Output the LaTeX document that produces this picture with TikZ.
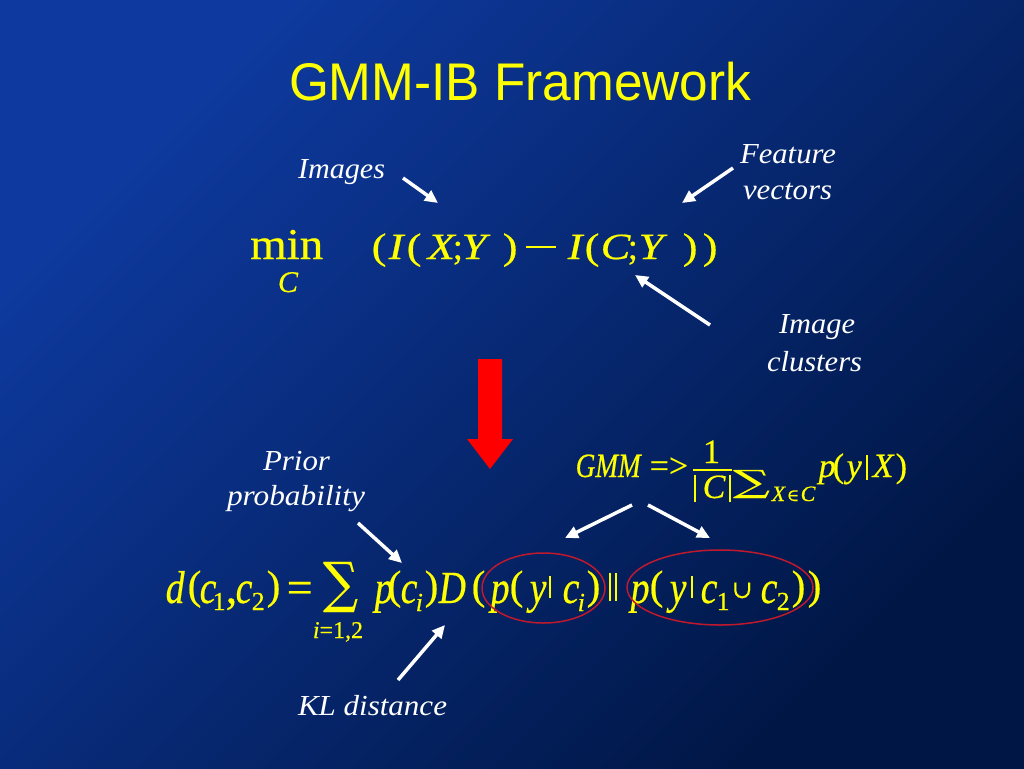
\documentclass[tikz,border=0pt]{standalone}
\usepackage{fontspec}
\setmainfont{Liberation Serif}
\newfontfamily\titlefont{Liberation Sans}
\newfontfamily\eqf[FakeBold=0.5,ItalicFeatures={FakeBold=0.5}]{Liberation Serif}
\newfontfamily\symf[FakeBold=0.3]{DejaVu Serif}
\usetikzlibrary{arrows.meta}
\definecolor{bgA}{RGB}{14,58,160}
\definecolor{bgB}{RGB}{0,22,68}
\definecolor{ellred}{RGB}{190,25,45}
\definecolor{eqyellow}{RGB}{255,255,0}
\newsavebox\fitbox
\newlength\fitl
\newcommand\fitw[2]{\sbox\fitbox{#2}\setlength\fitl{\wd\fitbox}\pgfmathsetmacro\fitr{#1/\fitl}\scalebox{\fitr}[1]{\usebox\fitbox}}
\def\gx{1}
\newcommand\gl[2]{\rlap{\hspace*{\dimexpr#1pt-\glo pt\relax}#2}}
\newcommand\gi[2]{\gl{#1}{\itshape\scalebox{\gx}[1]{#2}}}
\newcommand\gu[2]{\gl{#1}{\scalebox{\gx}[1]{#2}}}
\newcommand\gp[2]{\gl{#1}{\raisebox{4pt}{\fontsize{41}{44}\selectfont #2}}}
\newcommand\gs[3]{\gl{#1}{\raisebox{-#2pt}{\fontsize{26}{30}\selectfont #3}}}
\tikzset{
  lab/.style={text=white, font=\fontsize{29}{32}\selectfont\itshape, inner sep=0pt, anchor=base},
  eq/.style={text=eqyellow, inner sep=0pt, anchor=base west},
  pointer/.style={white, line width=3.5pt, -{Triangle[length=13pt,width=12pt]}},
  ring/.style={draw=ellred, line width=1.5pt},
}
\begin{document}
\begin{tikzpicture}[x=1pt,y=-1pt]
\useasboundingbox (0,0) rectangle (1024,768);
\shade[shading=axis, top color=bgA, bottom color=bgB, shading angle=45] (0,0) rectangle (1024,768);

% title
\node[text=eqyellow, inner sep=0pt, anchor=base, font=\titlefont\fontsize{53}{58}\selectfont] (title) at (520,100) {\fitw{462}{GMM-IB Framework}};

% labels
\node[lab] (images) at (341.5,178) {\fitw{87}{Images}};
\node[lab] (feature) at (788,163) {\fitw{96}{Feature}};
\node[lab] (vectors) at (787.5,199) {\fitw{89}{vectors}};
\node[lab] (image) at (817,333) {\fitw{76}{Image}};
\node[lab] (clusters) at (814.5,371) {\fitw{95}{clusters}};
\node[lab] (prior) at (296.5,470) {\fitw{67}{Prior}};
\node[lab] (probability) at (296,505) {\fitw{138}{probability}};
\node[lab] (kl) at (372.5,715) {\fitw{149}{KL distance}};

% top formula
\node[eq, font=\eqf\fontsize{44}{48}\selectfont] (min) at (250,259) {\fitw{73}{min}};
\node[eq, anchor=base, font=\eqf\fontsize{30}{32}\selectfont\itshape] (minC) at (288,292) {C};
\node[eq, font=\eqf\fontsize{37}{40}\selectfont] (eqtop) at (370,259) {\def\glo{370}\def\gx{1.2}\gu{371}{(}\gi{388}{I}\gu{406}{(}\gi{427}{X}\gl{452}{;}\gi{461}{Y}\gu{502}{)}\gl{525}{\rule[11pt]{30pt}{2.2pt}}\gi{567}{I}\gu{584}{(}\gi{600}{C}\gl{627}{;}\gi{638}{Y}\gu{682}{)}\gu{702}{)}};

% red arrow
\fill[red] (478,359) -- (502,359) -- (502,439) -- (513,439) -- (490,469) -- (467,439) -- (478,439) -- cycle;

% GMM formula
\node[eq, font=\eqf\fontsize{34}{38}\selectfont] (gmm) at (575,477) {\def\glo{575}\def\gx{0.8}\gi{575}{GMM}\gl{649}{=>}};
\node[eq, anchor=base, font=\eqf\fontsize{34}{38}\selectfont] (one) at (711.5,463) {1};
\draw[eqyellow, line width=1.5pt] (693,470) -- (732,470);
\node[eq, font=\eqf\fontsize{34}{38}\selectfont] (absC) at (693,498) {\def\glo{693}\gl{693}{\rule[-4pt]{1.8pt}{27pt}}\gi{702}{C}\gl{728}{\rule[-4pt]{1.8pt}{27pt}}};
\node[text=eqyellow, inner sep=0pt] (sumA) at (751.5,484) {\resizebox*{37pt}{28pt}{\symf ∑}};
\node[eq, font=\eqf\fontsize{22}{24}\selectfont] (sumAsub) at (771,501) {\def\glo{771}\gi{771}{X}\gl{786}{\symf\fontsize{17}{20}\selectfont ∈}\gi{800}{C}};
\node[eq, font=\eqf\fontsize{34}{38}\selectfont] (pyX) at (817,477) {\def\glo{817}\gi{818}{p}\gl{832}{(}\gi{846}{y}\gl{865}{\rule[-3pt]{1.8pt}{25pt}}\gi{872}{X}\gl{895}{)}};

% bottom formula
\node[eq, font=\eqf\fontsize{46}{50}\selectfont] (dist) at (165,603) {\def\glo{165}\def\gx{0.82}\gi{165}{d}\gp{187}{(}\gi{199}{c}\gs{212}{7}{1}\gl{225}{,}\gi{235}{c}\gs{251}{7}{2}\gp{266}{)}\gl{286}{=}\gi{374}{p}\gp{387}{(}\gi{400}{c}\gs{415}{8}{\itshape i}\gp{424}{)}\gi{438}{D}\gp{471}{(}\gi{490}{p}\gp{509}{(}\gi{529}{y}\gl{548}{\rule[5pt]{2.2pt}{22pt}}\gi{562}{c}\gs{577}{8}{\itshape i}\gp{586}{)}\gl{608}{\rule[2pt]{2.5pt}{28pt}}\gl{614}{\rule[2pt]{2.5pt}{28pt}}\gi{630}{p}\gp{649}{(}\gi{669}{y}\gl{690}{\rule[5pt]{2.2pt}{22pt}}\gi{700}{c}\gs{716}{7}{1}\gl{731}{\raisebox{5pt}{\symf\fontsize{25}{28}\selectfont ∪}}\gi{760}{c}\gs{776}{7}{2}\gp{791}{)}\gp{807}{)}};
\node[text=eqyellow, inner sep=0pt] (sumB) at (340.5,587) {\resizebox*{35pt}{50pt}{\symf ∑}};
\node[eq, anchor=base, font=\eqf\fontsize{24}{26}\selectfont] (sumBsub) at (338,638) {\textit{i}=1,2};

% red ellipses
\draw[ring] (543.5,588) ellipse [x radius=61.5, y radius=35];
\draw[ring] (720,587.5) ellipse [x radius=93, y radius=37.5];

% white pointers
\coordinate (p1s) at (403,178); \coordinate (p1e) at (438,203);
\coordinate (p2s) at (733,168); \coordinate (p2e) at (682,203);
\coordinate (p3s) at (710,325); \coordinate (p3e) at (635,275);
\coordinate (p4s) at (632,505); \coordinate (p4e) at (565,538);
\coordinate (p5s) at (648,505); \coordinate (p5e) at (710,538);
\coordinate (p6s) at (358,523); \coordinate (p6e) at (402,563);
\coordinate (p7s) at (398,680); \coordinate (p7e) at (445,625);
\draw[pointer] (p1s) -- (p1e);
\draw[pointer] (p2s) -- (p2e);
\draw[pointer] (p3s) -- (p3e);
\draw[pointer] (p4s) -- (p4e);
\draw[pointer] (p5s) -- (p5e);
\draw[pointer] (p6s) -- (p6e);
\draw[pointer] (p7s) -- (p7e);
\end{tikzpicture}
\end{document}
